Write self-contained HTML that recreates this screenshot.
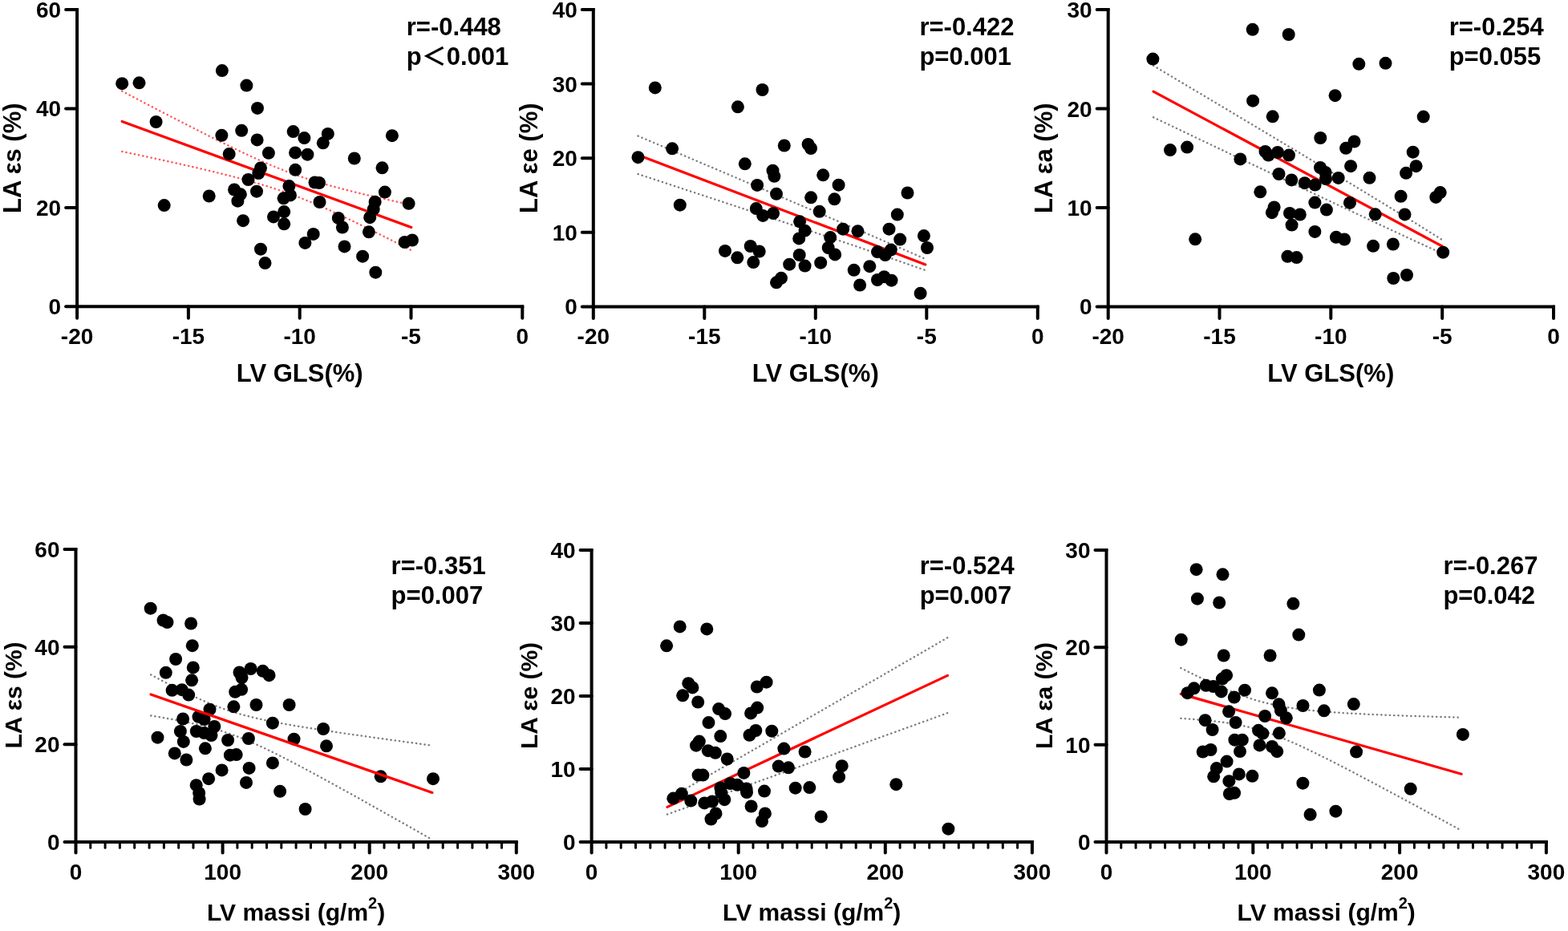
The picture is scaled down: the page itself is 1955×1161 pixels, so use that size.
<!DOCTYPE html>
<html><head><meta charset="utf-8"><title>Correlation plots</title>
<style>html,body{margin:0;padding:0;background:#fff;}svg{display:block;}</style>
</head><body>
<svg width="1955" height="1161" viewBox="0 0 1955 1161">
<rect width="100%" height="100%" fill="#fff"/>
<g><path d="M152.2 113.6 L161.4 118.5 L170.7 123.3 L179.9 128.1 L189.2 133 L198.4 137.8 L207.7 142.6 L216.9 147.3 L226.2 152.1 L235.4 156.8 L244.7 161.5 L253.9 166.2 L263.2 170.9 L272.4 175.5 L281.6 180 L290.9 184.5 L300.1 189 L309.4 193.3 L318.6 197.6 L327.9 201.7 L337.1 205.7 L346.4 209.5 L355.6 213.2 L364.9 216.6 L374.1 219.9 L383.4 223 L392.6 225.9 L401.8 228.7 L411.1 231.3 L420.3 233.8 L429.6 236.3 L438.8 238.6 L448.1 240.9 L457.3 243.1 L466.6 245.2 L475.8 247.4 L485.1 249.4 L494.3 251.5 L503.6 253.5 L512.8 255.6" fill="none" stroke="#ff5a5a" stroke-width="2.4" stroke-linecap="round" stroke-dasharray="0.3 5.0"/><path d="M152.2 188.9 L161.4 190.9 L170.7 192.8 L179.9 194.8 L189.2 196.8 L198.4 198.8 L207.7 200.8 L216.9 202.9 L226.2 204.9 L235.4 207 L244.7 209.1 L253.9 211.3 L263.2 213.5 L272.4 215.7 L281.6 218 L290.9 220.3 L300.1 222.7 L309.4 225.3 L318.6 227.9 L327.9 230.6 L337.1 233.5 L346.4 236.5 L355.6 239.7 L364.9 243 L374.1 246.6 L383.4 250.3 L392.6 254.1 L401.8 258.1 L411.1 262.2 L420.3 266.5 L429.6 270.8 L438.8 275.2 L448.1 279.7 L457.3 284.2 L466.6 288.8 L475.8 293.4 L485.1 298 L494.3 302.7 L503.6 307.4 L512.8 312.1" fill="none" stroke="#ff5a5a" stroke-width="2.4" stroke-linecap="round" stroke-dasharray="0.3 5.0"/><line x1="152.2" y1="151.4" x2="512.8" y2="283.5" stroke="#ff0000" stroke-width="3.2" stroke-linecap="round"/><g fill="#000"><circle cx="152.2" cy="104.2" r="8.0"/><circle cx="173.5" cy="103.3" r="8.0"/><circle cx="276.9" cy="88.1" r="8.0"/><circle cx="307.4" cy="106.6" r="8.0"/><circle cx="321" cy="134.9" r="8.0"/><circle cx="194.6" cy="152" r="8.0"/><circle cx="276.4" cy="168.8" r="8.0"/><circle cx="301.2" cy="162.8" r="8.0"/><circle cx="320.6" cy="174.4" r="8.0"/><circle cx="285.7" cy="192.1" r="8.0"/><circle cx="334.9" cy="190.8" r="8.0"/><circle cx="325" cy="209.5" r="8.0"/><circle cx="322.3" cy="216" r="8.0"/><circle cx="204.7" cy="256.1" r="8.0"/><circle cx="260.7" cy="244.5" r="8.0"/><circle cx="309.5" cy="224" r="8.0"/><circle cx="292.1" cy="236.5" r="8.0"/><circle cx="299.9" cy="242.3" r="8.0"/><circle cx="296.4" cy="250.7" r="8.0"/><circle cx="320" cy="238.7" r="8.0"/><circle cx="303.1" cy="275.2" r="8.0"/><circle cx="325" cy="310.7" r="8.0"/><circle cx="330.5" cy="328.1" r="8.0"/><circle cx="365.6" cy="164.1" r="8.0"/><circle cx="379.4" cy="172.1" r="8.0"/><circle cx="408.8" cy="166.9" r="8.0"/><circle cx="402.8" cy="178.3" r="8.0"/><circle cx="368.1" cy="190.4" r="8.0"/><circle cx="383.4" cy="192.7" r="8.0"/><circle cx="488.9" cy="169.2" r="8.0"/><circle cx="441.8" cy="197.5" r="8.0"/><circle cx="476.5" cy="209.3" r="8.0"/><circle cx="368.2" cy="211.8" r="8.0"/><circle cx="360.4" cy="232.1" r="8.0"/><circle cx="362" cy="243.4" r="8.0"/><circle cx="353.6" cy="247.3" r="8.0"/><circle cx="354.2" cy="264.1" r="8.0"/><circle cx="341" cy="270.4" r="8.0"/><circle cx="354.2" cy="279.3" r="8.0"/><circle cx="392.5" cy="227.5" r="8.0"/><circle cx="398" cy="228" r="8.0"/><circle cx="398.5" cy="252" r="8.0"/><circle cx="390.7" cy="291.9" r="8.0"/><circle cx="380.4" cy="302.9" r="8.0"/><circle cx="421.8" cy="271.9" r="8.0"/><circle cx="426.9" cy="283.5" r="8.0"/><circle cx="429.5" cy="307.4" r="8.0"/><circle cx="452.1" cy="319.7" r="8.0"/><circle cx="468.3" cy="339.7" r="8.0"/><circle cx="459.9" cy="289.3" r="8.0"/><circle cx="467.6" cy="251.8" r="8.0"/><circle cx="465.7" cy="260.9" r="8.0"/><circle cx="461.2" cy="271.2" r="8.0"/><circle cx="479.9" cy="239.6" r="8.0"/><circle cx="509.6" cy="253.8" r="8.0"/><circle cx="504.6" cy="302" r="8.0"/><circle cx="514" cy="299.5" r="8.0"/></g><path d="M96.1 10 V384.3 M94.1 382.3 H653.3" fill="none" stroke="#000" stroke-width="4"/><line x1="82.1" y1="382.3" x2="96.1" y2="382.3" stroke="#000" stroke-width="4" stroke-linecap="round"/><line x1="82.1" y1="258.9" x2="96.1" y2="258.9" stroke="#000" stroke-width="4" stroke-linecap="round"/><line x1="82.1" y1="135.4" x2="96.1" y2="135.4" stroke="#000" stroke-width="4" stroke-linecap="round"/><line x1="82.1" y1="12" x2="96.1" y2="12" stroke="#000" stroke-width="4" stroke-linecap="round"/><line x1="96.1" y1="382.3" x2="96.1" y2="396.8" stroke="#000" stroke-width="4" stroke-linecap="round"/><line x1="234.9" y1="382.3" x2="234.9" y2="396.8" stroke="#000" stroke-width="4" stroke-linecap="round"/><line x1="373.7" y1="382.3" x2="373.7" y2="396.8" stroke="#000" stroke-width="4" stroke-linecap="round"/><line x1="512.5" y1="382.3" x2="512.5" y2="396.8" stroke="#000" stroke-width="4" stroke-linecap="round"/><line x1="651.3" y1="382.3" x2="651.3" y2="396.8" stroke="#000" stroke-width="4" stroke-linecap="round"/></g>
<g font-family="&apos;Liberation Sans&apos;, Arial, Helvetica, sans-serif" font-weight="bold" fill="#000"><text x="76.1" y="392.3" text-anchor="end" font-size="28">0</text><text x="76.1" y="268.9" text-anchor="end" font-size="28">20</text><text x="76.1" y="145.4" text-anchor="end" font-size="28">40</text><text x="76.1" y="22" text-anchor="end" font-size="28">60</text><text x="96.1" y="429.3" text-anchor="middle" font-size="28">-20</text><text x="234.9" y="429.3" text-anchor="middle" font-size="28">-15</text><text x="373.7" y="429.3" text-anchor="middle" font-size="28">-10</text><text x="512.5" y="429.3" text-anchor="middle" font-size="28">-5</text><text x="651.3" y="429.3" text-anchor="middle" font-size="28">0</text><text x="373.7" y="476" text-anchor="middle" font-size="31">LV GLS(%)</text><text transform="translate(26.1 197.2) rotate(-90)" text-anchor="middle" font-size="31">LA εs (%)</text><text x="506.8" y="43.6" font-size="31">r=-0.448</text><text x="506.8" y="80.8" font-size="31">p<tspan font-family="'Noto Sans CJK SC', sans-serif" font-weight="700">＜</tspan>0.001</text></g>
<g><path d="M795.5 169.6 L804.7 173.5 L813.9 177.4 L823.1 181.3 L832.2 185.2 L841.4 189.2 L850.6 193.1 L859.8 197 L869 200.9 L878.2 204.8 L887.4 208.7 L896.6 212.6 L905.7 216.5 L914.9 220.4 L924.1 224.3 L933.3 228.3 L942.5 232.2 L951.7 236.1 L960.9 240 L970.1 243.9 L979.2 247.8 L988.4 251.8 L997.6 255.7 L1006.8 259.6 L1016 263.5 L1025.2 267.4 L1034.4 271.4 L1043.6 275.3 L1052.7 279.2 L1061.9 283.2 L1071.1 287.1 L1080.3 291.1 L1089.5 295 L1098.7 299 L1107.9 302.9 L1117.1 306.9 L1126.2 310.9 L1135.4 314.9 L1144.6 318.9 L1153.8 322.9" fill="none" stroke="#7e7e7e" stroke-width="2.4" stroke-linecap="round" stroke-dasharray="0.3 5.0"/><path d="M795.5 217.1 L804.7 220.1 L813.9 223.1 L823.1 226.1 L832.2 229.1 L841.4 232.1 L850.6 235.2 L859.8 238.2 L869 241.2 L878.2 244.2 L887.4 247.3 L896.6 250.3 L905.7 253.3 L914.9 256.3 L924.1 259.4 L933.3 262.4 L942.5 265.4 L951.7 268.5 L960.9 271.5 L970.1 274.6 L979.2 277.6 L988.4 280.7 L997.6 283.7 L1006.8 286.8 L1016 289.9 L1025.2 293 L1034.4 296 L1043.6 299.1 L1052.7 302.2 L1061.9 305.3 L1071.1 308.4 L1080.3 311.6 L1089.5 314.7 L1098.7 317.9 L1107.9 321 L1117.1 324.2 L1126.2 327.4 L1135.4 330.6 L1144.6 333.8 L1153.8 337.1" fill="none" stroke="#7e7e7e" stroke-width="2.4" stroke-linecap="round" stroke-dasharray="0.3 5.0"/><line x1="795.5" y1="193.2" x2="1153.8" y2="329.9" stroke="#ff0000" stroke-width="3.2" stroke-linecap="round"/><g fill="#000"><circle cx="816.8" cy="109.4" r="8.0"/><circle cx="950.5" cy="112" r="8.0"/><circle cx="919.9" cy="133.3" r="8.0"/><circle cx="795.5" cy="196.2" r="8.0"/><circle cx="838.1" cy="185.3" r="8.0"/><circle cx="977.8" cy="181.5" r="8.0"/><circle cx="928.8" cy="204.3" r="8.0"/><circle cx="963.5" cy="212.7" r="8.0"/><circle cx="965.4" cy="219.8" r="8.0"/><circle cx="944.1" cy="230.9" r="8.0"/><circle cx="968" cy="241.8" r="8.0"/><circle cx="847.8" cy="255.7" r="8.0"/><circle cx="942.8" cy="260.1" r="8.0"/><circle cx="951.2" cy="268.9" r="8.0"/><circle cx="964.1" cy="266.1" r="8.0"/><circle cx="997.1" cy="276.3" r="8.0"/><circle cx="996.2" cy="297.4" r="8.0"/><circle cx="996.7" cy="318" r="8.0"/><circle cx="984.2" cy="329.7" r="8.0"/><circle cx="904" cy="312.9" r="8.0"/><circle cx="919.3" cy="321.3" r="8.0"/><circle cx="935.7" cy="307" r="8.0"/><circle cx="946.7" cy="313.5" r="8.0"/><circle cx="939.3" cy="327.1" r="8.0"/><circle cx="974" cy="346.8" r="8.0"/><circle cx="968" cy="352.3" r="8.0"/><circle cx="1007.6" cy="180" r="8.0"/><circle cx="1011" cy="185" r="8.0"/><circle cx="1026.2" cy="218.3" r="8.0"/><circle cx="1045.6" cy="230.7" r="8.0"/><circle cx="1131.5" cy="240.5" r="8.0"/><circle cx="1011.1" cy="246.3" r="8.0"/><circle cx="1040.4" cy="248.3" r="8.0"/><circle cx="1021.7" cy="263.8" r="8.0"/><circle cx="1118.8" cy="267.6" r="8.0"/><circle cx="1003.6" cy="287.7" r="8.0"/><circle cx="1035.2" cy="296.1" r="8.0"/><circle cx="1032.7" cy="309" r="8.0"/><circle cx="1041.1" cy="317.4" r="8.0"/><circle cx="1051.1" cy="285.7" r="8.0"/><circle cx="1069.5" cy="288.3" r="8.0"/><circle cx="1108.5" cy="285.7" r="8.0"/><circle cx="1122.2" cy="298.6" r="8.0"/><circle cx="1151.9" cy="294.1" r="8.0"/><circle cx="1156" cy="309" r="8.0"/><circle cx="1094" cy="314.1" r="8.0"/><circle cx="1103.7" cy="318" r="8.0"/><circle cx="1110.8" cy="311.6" r="8.0"/><circle cx="1003.6" cy="331.6" r="8.0"/><circle cx="1023.2" cy="327.7" r="8.0"/><circle cx="1064.7" cy="336.8" r="8.0"/><circle cx="1084.3" cy="332.2" r="8.0"/><circle cx="1072.1" cy="355.5" r="8.0"/><circle cx="1094" cy="349" r="8.0"/><circle cx="1102.4" cy="345.2" r="8.0"/><circle cx="1111.5" cy="349.7" r="8.0"/><circle cx="1147.6" cy="365.8" r="8.0"/></g><path d="M739.8 10 V384.4 M737.8 382.4 H1295.8" fill="none" stroke="#000" stroke-width="4"/><line x1="725.8" y1="382.4" x2="739.8" y2="382.4" stroke="#000" stroke-width="4" stroke-linecap="round"/><line x1="725.8" y1="289.8" x2="739.8" y2="289.8" stroke="#000" stroke-width="4" stroke-linecap="round"/><line x1="725.8" y1="197.2" x2="739.8" y2="197.2" stroke="#000" stroke-width="4" stroke-linecap="round"/><line x1="725.8" y1="104.6" x2="739.8" y2="104.6" stroke="#000" stroke-width="4" stroke-linecap="round"/><line x1="725.8" y1="12" x2="739.8" y2="12" stroke="#000" stroke-width="4" stroke-linecap="round"/><line x1="739.8" y1="382.4" x2="739.8" y2="396.9" stroke="#000" stroke-width="4" stroke-linecap="round"/><line x1="878.3" y1="382.4" x2="878.3" y2="396.9" stroke="#000" stroke-width="4" stroke-linecap="round"/><line x1="1016.8" y1="382.4" x2="1016.8" y2="396.9" stroke="#000" stroke-width="4" stroke-linecap="round"/><line x1="1155.3" y1="382.4" x2="1155.3" y2="396.9" stroke="#000" stroke-width="4" stroke-linecap="round"/><line x1="1293.8" y1="382.4" x2="1293.8" y2="396.9" stroke="#000" stroke-width="4" stroke-linecap="round"/></g>
<g font-family="&apos;Liberation Sans&apos;, Arial, Helvetica, sans-serif" font-weight="bold" fill="#000"><text x="719.8" y="392.4" text-anchor="end" font-size="28">0</text><text x="719.8" y="299.8" text-anchor="end" font-size="28">10</text><text x="719.8" y="207.2" text-anchor="end" font-size="28">20</text><text x="719.8" y="114.6" text-anchor="end" font-size="28">30</text><text x="719.8" y="22" text-anchor="end" font-size="28">40</text><text x="739.8" y="429.4" text-anchor="middle" font-size="28">-20</text><text x="878.3" y="429.4" text-anchor="middle" font-size="28">-15</text><text x="1016.8" y="429.4" text-anchor="middle" font-size="28">-10</text><text x="1155.3" y="429.4" text-anchor="middle" font-size="28">-5</text><text x="1293.8" y="429.4" text-anchor="middle" font-size="28">0</text><text x="1016.8" y="476.1" text-anchor="middle" font-size="31">LV GLS(%)</text><text transform="translate(669.8 197.2) rotate(-90)" text-anchor="middle" font-size="31">LA εe (%)</text><text x="1146.4" y="43.6" font-size="31">r=-0.422</text><text x="1146.4" y="80.8" font-size="31">p=0.001</text></g>
<g><path d="M1438.1 81.9 L1447.3 87.4 L1456.6 92.9 L1465.8 98.4 L1475 103.9 L1484.3 109.4 L1493.5 114.9 L1502.8 120.4 L1512 125.9 L1521.2 131.4 L1530.5 136.9 L1539.7 142.5 L1548.9 148 L1558.2 153.5 L1567.4 159 L1576.6 164.5 L1585.9 170.1 L1595.1 175.6 L1604.3 181.1 L1613.6 186.7 L1622.8 192.2 L1632.1 197.8 L1641.3 203.3 L1650.5 208.9 L1659.8 214.4 L1669 220 L1678.2 225.6 L1687.5 231.1 L1696.7 236.7 L1705.9 242.3 L1715.2 247.9 L1724.4 253.5 L1733.6 259.2 L1742.9 264.8 L1752.1 270.5 L1761.4 276.1 L1770.6 281.8 L1779.8 287.6 L1789.1 293.4 L1798.3 299.2" fill="none" stroke="#7e7e7e" stroke-width="2.4" stroke-linecap="round" stroke-dasharray="0.3 5.0"/><path d="M1438.1 146.3 L1447.3 150.7 L1456.6 155.1 L1465.8 159.5 L1475 163.9 L1484.3 168.3 L1493.5 172.7 L1502.8 177.1 L1512 181.5 L1521.2 185.9 L1530.5 190.3 L1539.7 194.7 L1548.9 199.1 L1558.2 203.5 L1567.4 207.8 L1576.6 212.2 L1585.9 216.6 L1595.1 221 L1604.3 225.4 L1613.6 229.8 L1622.8 234.1 L1632.1 238.5 L1641.3 242.9 L1650.5 247.2 L1659.8 251.6 L1669 256 L1678.2 260.3 L1687.5 264.7 L1696.7 269 L1705.9 273.3 L1715.2 277.7 L1724.4 282 L1733.6 286.3 L1742.9 290.6 L1752.1 294.9 L1761.4 299.2 L1770.6 303.4 L1779.8 307.7 L1789.1 311.9 L1798.3 316.1" fill="none" stroke="#7e7e7e" stroke-width="2.4" stroke-linecap="round" stroke-dasharray="0.3 5.0"/><line x1="1438.1" y1="114.1" x2="1798.3" y2="307.2" stroke="#ff0000" stroke-width="3.2" stroke-linecap="round"/><g fill="#000"><circle cx="1561.7" cy="36.8" r="8.0"/><circle cx="1606.7" cy="43" r="8.0"/><circle cx="1437.4" cy="73.6" r="8.0"/><circle cx="1562.1" cy="125.7" r="8.0"/><circle cx="1586.7" cy="145.3" r="8.0"/><circle cx="1694.3" cy="79.8" r="8.0"/><circle cx="1727.5" cy="78.8" r="8.0"/><circle cx="1664.6" cy="119.2" r="8.0"/><circle cx="1774.7" cy="145.6" r="8.0"/><circle cx="1646.3" cy="172" r="8.0"/><circle cx="1459" cy="187.1" r="8.0"/><circle cx="1480.1" cy="183.6" r="8.0"/><circle cx="1546.4" cy="198.4" r="8.0"/><circle cx="1577.5" cy="189" r="8.0"/><circle cx="1581.5" cy="193.5" r="8.0"/><circle cx="1593" cy="190" r="8.0"/><circle cx="1607" cy="193.6" r="8.0"/><circle cx="1594.5" cy="217" r="8.0"/><circle cx="1610.3" cy="224.4" r="8.0"/><circle cx="1626.7" cy="228.2" r="8.0"/><circle cx="1639.6" cy="230.6" r="8.0"/><circle cx="1571.3" cy="239.3" r="8.0"/><circle cx="1588.6" cy="258.5" r="8.0"/><circle cx="1585.9" cy="265.2" r="8.0"/><circle cx="1608" cy="265.9" r="8.0"/><circle cx="1620.8" cy="267.5" r="8.0"/><circle cx="1610.6" cy="280.6" r="8.0"/><circle cx="1490.2" cy="298.3" r="8.0"/><circle cx="1688.5" cy="176.5" r="8.0"/><circle cx="1678.1" cy="184.8" r="8.0"/><circle cx="1761.7" cy="189.7" r="8.0"/><circle cx="1765.6" cy="207.2" r="8.0"/><circle cx="1753.1" cy="215.8" r="8.0"/><circle cx="1684.1" cy="207.2" r="8.0"/><circle cx="1707.5" cy="221.8" r="8.0"/><circle cx="1668.7" cy="221.9" r="8.0"/><circle cx="1646" cy="209" r="8.0"/><circle cx="1652.5" cy="215" r="8.0"/><circle cx="1653" cy="223" r="8.0"/><circle cx="1639.4" cy="252.6" r="8.0"/><circle cx="1653.9" cy="261.6" r="8.0"/><circle cx="1683" cy="252.9" r="8.0"/><circle cx="1714.7" cy="267.3" r="8.0"/><circle cx="1746.6" cy="244.8" r="8.0"/><circle cx="1751.5" cy="267.4" r="8.0"/><circle cx="1790.3" cy="245.9" r="8.0"/><circle cx="1795.7" cy="240.1" r="8.0"/><circle cx="1639.4" cy="288.9" r="8.0"/><circle cx="1665.9" cy="295.8" r="8.0"/><circle cx="1676.2" cy="298.5" r="8.0"/><circle cx="1712.1" cy="306.8" r="8.0"/><circle cx="1736.9" cy="304.5" r="8.0"/><circle cx="1799.2" cy="314.7" r="8.0"/><circle cx="1737.3" cy="347" r="8.0"/><circle cx="1754" cy="343" r="8.0"/><circle cx="1605.4" cy="319.8" r="8.0"/><circle cx="1616.6" cy="321.1" r="8.0"/></g><path d="M1381.7 10 V384.4 M1379.7 382.4 H1939" fill="none" stroke="#000" stroke-width="4"/><line x1="1367.7" y1="382.4" x2="1381.7" y2="382.4" stroke="#000" stroke-width="4" stroke-linecap="round"/><line x1="1367.7" y1="258.9" x2="1381.7" y2="258.9" stroke="#000" stroke-width="4" stroke-linecap="round"/><line x1="1367.7" y1="135.5" x2="1381.7" y2="135.5" stroke="#000" stroke-width="4" stroke-linecap="round"/><line x1="1367.7" y1="12" x2="1381.7" y2="12" stroke="#000" stroke-width="4" stroke-linecap="round"/><line x1="1381.7" y1="382.4" x2="1381.7" y2="396.9" stroke="#000" stroke-width="4" stroke-linecap="round"/><line x1="1520.5" y1="382.4" x2="1520.5" y2="396.9" stroke="#000" stroke-width="4" stroke-linecap="round"/><line x1="1659.3" y1="382.4" x2="1659.3" y2="396.9" stroke="#000" stroke-width="4" stroke-linecap="round"/><line x1="1798.2" y1="382.4" x2="1798.2" y2="396.9" stroke="#000" stroke-width="4" stroke-linecap="round"/><line x1="1937" y1="382.4" x2="1937" y2="396.9" stroke="#000" stroke-width="4" stroke-linecap="round"/></g>
<g font-family="&apos;Liberation Sans&apos;, Arial, Helvetica, sans-serif" font-weight="bold" fill="#000"><text x="1361.7" y="392.4" text-anchor="end" font-size="28">0</text><text x="1361.7" y="268.9" text-anchor="end" font-size="28">10</text><text x="1361.7" y="145.5" text-anchor="end" font-size="28">20</text><text x="1361.7" y="22" text-anchor="end" font-size="28">30</text><text x="1381.7" y="429.4" text-anchor="middle" font-size="28">-20</text><text x="1520.5" y="429.4" text-anchor="middle" font-size="28">-15</text><text x="1659.3" y="429.4" text-anchor="middle" font-size="28">-10</text><text x="1798.2" y="429.4" text-anchor="middle" font-size="28">-5</text><text x="1937" y="429.4" text-anchor="middle" font-size="28">0</text><text x="1659.3" y="476.1" text-anchor="middle" font-size="31">LV GLS(%)</text><text transform="translate(1311.7 197.2) rotate(-90)" text-anchor="middle" font-size="31">LA εa (%)</text><text x="1806.7" y="43.6" font-size="31">r=-0.254</text><text x="1806.7" y="80.8" font-size="31">p=0.055</text></g>
<g><path d="M188.1 841.4 L197.1 846.2 L206.1 850.9 L215.1 855.5 L224.1 860 L233.1 864.4 L242.1 868.7 L251.1 872.8 L260.1 876.7 L269.1 880.3 L278 883.7 L287 886.7 L296 889.5 L305 892 L314 894.3 L323 896.4 L332 898.4 L341 900.2 L350 901.9 L359 903.5 L368 905.1 L377 906.5 L386 908 L395 909.4 L404 910.8 L413 912.1 L422 913.5 L431 914.8 L440 916.1 L449 917.3 L457.9 918.6 L466.9 919.9 L475.9 921.1 L484.9 922.4 L493.9 923.6 L502.9 924.8 L511.9 926 L520.9 927.2 L529.9 928.5 L538.9 929.7" fill="none" stroke="#7e7e7e" stroke-width="2.4" stroke-linecap="round" stroke-dasharray="0.3 5.0"/><path d="M188.1 892.4 L197.1 893.9 L206.1 895.5 L215.1 897.1 L224.1 898.8 L233.1 900.6 L242.1 902.5 L251.1 904.6 L260.1 906.9 L269.1 909.4 L278 912.1 L287 915.2 L296 918.5 L305 922 L314 925.9 L323 929.9 L332 934.1 L341 938.5 L350 943 L359 947.6 L368 952.3 L377 957 L386 961.8 L395 966.7 L404 971.6 L413 976.5 L422 981.5 L431 986.4 L440 991.4 L449 996.4 L457.9 1001.5 L466.9 1006.5 L475.9 1011.5 L484.9 1016.6 L493.9 1021.7 L502.9 1026.7 L511.9 1031.8 L520.9 1036.9 L529.9 1042 L538.9 1047.1" fill="none" stroke="#7e7e7e" stroke-width="2.4" stroke-linecap="round" stroke-dasharray="0.3 5.0"/><g fill="#000"><circle cx="187.7" cy="758.7" r="8.0"/><circle cx="203.5" cy="773.5" r="8.0"/><circle cx="208.5" cy="776" r="8.0"/><circle cx="238.1" cy="777.5" r="8.0"/><circle cx="239.8" cy="805.2" r="8.0"/><circle cx="219.1" cy="822" r="8.0"/><circle cx="240.8" cy="832.4" r="8.0"/><circle cx="206.8" cy="838.8" r="8.0"/><circle cx="239.1" cy="848.3" r="8.0"/><circle cx="214.6" cy="860.8" r="8.0"/><circle cx="226.8" cy="860.2" r="8.0"/><circle cx="235.2" cy="866.6" r="8.0"/><circle cx="298.5" cy="838.5" r="8.0"/><circle cx="301.5" cy="845" r="8.0"/><circle cx="312.6" cy="834" r="8.0"/><circle cx="327.7" cy="836.8" r="8.0"/><circle cx="335.5" cy="842.2" r="8.0"/><circle cx="293.2" cy="862.8" r="8.0"/><circle cx="301.1" cy="859.8" r="8.0"/><circle cx="291.4" cy="881.3" r="8.0"/><circle cx="319.5" cy="879" r="8.0"/><circle cx="360.6" cy="879" r="8.0"/><circle cx="261.5" cy="884.7" r="8.0"/><circle cx="339.9" cy="901.7" r="8.0"/><circle cx="366.5" cy="921.7" r="8.0"/><circle cx="228.1" cy="896.5" r="8.0"/><circle cx="224.9" cy="912" r="8.0"/><circle cx="228.8" cy="924.9" r="8.0"/><circle cx="196.5" cy="919.7" r="8.0"/><circle cx="247.5" cy="893.8" r="8.0"/><circle cx="254.6" cy="897" r="8.0"/><circle cx="267.3" cy="906" r="8.0"/><circle cx="244.8" cy="912" r="8.0"/><circle cx="254.5" cy="914" r="8.0"/><circle cx="263.5" cy="917" r="8.0"/><circle cx="284.1" cy="923" r="8.0"/><circle cx="309.9" cy="921" r="8.0"/><circle cx="255.9" cy="933.3" r="8.0"/><circle cx="217.8" cy="939.4" r="8.0"/><circle cx="232.4" cy="947.5" r="8.0"/><circle cx="286.9" cy="941.7" r="8.0"/><circle cx="294.7" cy="941.1" r="8.0"/><circle cx="310.6" cy="957.9" r="8.0"/><circle cx="339.9" cy="951.4" r="8.0"/><circle cx="276.6" cy="960.4" r="8.0"/><circle cx="260.1" cy="971.2" r="8.0"/><circle cx="244.7" cy="979.2" r="8.0"/><circle cx="248.2" cy="988.9" r="8.0"/><circle cx="248.6" cy="996.6" r="8.0"/><circle cx="307" cy="975.9" r="8.0"/><circle cx="349.1" cy="986.8" r="8.0"/><circle cx="380.6" cy="1009" r="8.0"/><circle cx="403.1" cy="909" r="8.0"/><circle cx="407" cy="930.3" r="8.0"/><circle cx="474.7" cy="968.3" r="8.0"/><circle cx="540" cy="971.2" r="8.0"/></g><line x1="188.1" y1="866" x2="538.9" y2="988.4" stroke="#ff0000" stroke-width="3.2" stroke-linecap="round"/><path d="M94.5 683 V1052 M92.5 1050 H645.8" fill="none" stroke="#000" stroke-width="4"/><line x1="80.5" y1="1050" x2="94.5" y2="1050" stroke="#000" stroke-width="4" stroke-linecap="round"/><line x1="80.5" y1="928.3" x2="94.5" y2="928.3" stroke="#000" stroke-width="4" stroke-linecap="round"/><line x1="80.5" y1="806.7" x2="94.5" y2="806.7" stroke="#000" stroke-width="4" stroke-linecap="round"/><line x1="80.5" y1="685" x2="94.5" y2="685" stroke="#000" stroke-width="4" stroke-linecap="round"/><line x1="94.5" y1="1050" x2="94.5" y2="1063.6" stroke="#000" stroke-width="4" stroke-linecap="round"/><line x1="277.6" y1="1050" x2="277.6" y2="1063.6" stroke="#000" stroke-width="4" stroke-linecap="round"/><line x1="460.7" y1="1050" x2="460.7" y2="1063.6" stroke="#000" stroke-width="4" stroke-linecap="round"/><line x1="643.8" y1="1050" x2="643.8" y2="1063.6" stroke="#000" stroke-width="4" stroke-linecap="round"/><line x1="112.8" y1="1050" x2="112.8" y2="1057.3" stroke="#000" stroke-width="3" stroke-linecap="round"/><line x1="131.1" y1="1050" x2="131.1" y2="1057.3" stroke="#000" stroke-width="3" stroke-linecap="round"/><line x1="149.4" y1="1050" x2="149.4" y2="1057.3" stroke="#000" stroke-width="3" stroke-linecap="round"/><line x1="167.7" y1="1050" x2="167.7" y2="1057.3" stroke="#000" stroke-width="3" stroke-linecap="round"/><line x1="186.1" y1="1050" x2="186.1" y2="1057.3" stroke="#000" stroke-width="3" stroke-linecap="round"/><line x1="204.4" y1="1050" x2="204.4" y2="1057.3" stroke="#000" stroke-width="3" stroke-linecap="round"/><line x1="222.7" y1="1050" x2="222.7" y2="1057.3" stroke="#000" stroke-width="3" stroke-linecap="round"/><line x1="241" y1="1050" x2="241" y2="1057.3" stroke="#000" stroke-width="3" stroke-linecap="round"/><line x1="259.3" y1="1050" x2="259.3" y2="1057.3" stroke="#000" stroke-width="3" stroke-linecap="round"/><line x1="295.9" y1="1050" x2="295.9" y2="1057.3" stroke="#000" stroke-width="3" stroke-linecap="round"/><line x1="314.2" y1="1050" x2="314.2" y2="1057.3" stroke="#000" stroke-width="3" stroke-linecap="round"/><line x1="332.5" y1="1050" x2="332.5" y2="1057.3" stroke="#000" stroke-width="3" stroke-linecap="round"/><line x1="350.8" y1="1050" x2="350.8" y2="1057.3" stroke="#000" stroke-width="3" stroke-linecap="round"/><line x1="369.1" y1="1050" x2="369.1" y2="1057.3" stroke="#000" stroke-width="3" stroke-linecap="round"/><line x1="387.5" y1="1050" x2="387.5" y2="1057.3" stroke="#000" stroke-width="3" stroke-linecap="round"/><line x1="405.8" y1="1050" x2="405.8" y2="1057.3" stroke="#000" stroke-width="3" stroke-linecap="round"/><line x1="424.1" y1="1050" x2="424.1" y2="1057.3" stroke="#000" stroke-width="3" stroke-linecap="round"/><line x1="442.4" y1="1050" x2="442.4" y2="1057.3" stroke="#000" stroke-width="3" stroke-linecap="round"/><line x1="479" y1="1050" x2="479" y2="1057.3" stroke="#000" stroke-width="3" stroke-linecap="round"/><line x1="497.3" y1="1050" x2="497.3" y2="1057.3" stroke="#000" stroke-width="3" stroke-linecap="round"/><line x1="515.6" y1="1050" x2="515.6" y2="1057.3" stroke="#000" stroke-width="3" stroke-linecap="round"/><line x1="533.9" y1="1050" x2="533.9" y2="1057.3" stroke="#000" stroke-width="3" stroke-linecap="round"/><line x1="552.2" y1="1050" x2="552.2" y2="1057.3" stroke="#000" stroke-width="3" stroke-linecap="round"/><line x1="570.6" y1="1050" x2="570.6" y2="1057.3" stroke="#000" stroke-width="3" stroke-linecap="round"/><line x1="588.9" y1="1050" x2="588.9" y2="1057.3" stroke="#000" stroke-width="3" stroke-linecap="round"/><line x1="607.2" y1="1050" x2="607.2" y2="1057.3" stroke="#000" stroke-width="3" stroke-linecap="round"/><line x1="625.5" y1="1050" x2="625.5" y2="1057.3" stroke="#000" stroke-width="3" stroke-linecap="round"/></g>
<g font-family="&apos;Liberation Sans&apos;, Arial, Helvetica, sans-serif" font-weight="bold" fill="#000"><text x="74.5" y="1060" text-anchor="end" font-size="28">0</text><text x="74.5" y="938.3" text-anchor="end" font-size="28">20</text><text x="74.5" y="816.7" text-anchor="end" font-size="28">40</text><text x="74.5" y="695" text-anchor="end" font-size="28">60</text><text x="94.5" y="1097" text-anchor="middle" font-size="28">0</text><text x="277.6" y="1097" text-anchor="middle" font-size="28">100</text><text x="460.7" y="1097" text-anchor="middle" font-size="28">200</text><text x="643.8" y="1097" text-anchor="middle" font-size="28">300</text><text x="369.1" y="1148.3" text-anchor="middle" font-size="30">LV massi (g/m<tspan font-size="20" dy="-15.5">2</tspan><tspan dy="15.5">)</tspan></text><text transform="translate(26.7 867) rotate(-90)" text-anchor="middle" font-size="30">LA εs (%)</text><text x="487.6" y="715.6" font-size="31">r=-0.351</text><text x="487.6" y="752.8" font-size="31">p=0.007</text></g>
<g><path d="M832 996.5 L841 991.5 L849.9 986.4 L858.9 981.3 L867.8 976.1 L876.8 971 L885.8 965.9 L894.7 960.7 L903.7 955.6 L912.7 950.4 L921.6 945.3 L930.6 940.1 L939.5 935 L948.5 929.8 L957.5 924.6 L966.4 919.5 L975.4 914.3 L984.3 909.1 L993.3 903.9 L1002.3 898.8 L1011.2 893.6 L1020.2 888.4 L1029.2 883.2 L1038.1 878.1 L1047.1 872.9 L1056 867.7 L1065 862.5 L1074 857.3 L1082.9 852.1 L1091.9 847 L1100.8 841.8 L1109.8 836.6 L1118.8 831.4 L1127.7 826.2 L1136.7 821 L1145.7 815.9 L1154.6 810.7 L1163.6 805.5 L1172.5 800.3 L1181.5 795.1" fill="none" stroke="#7e7e7e" stroke-width="2.4" stroke-linecap="round" stroke-dasharray="0.3 5.0"/><path d="M832 1015.5 L841 1012.3 L849.9 1009.1 L858.9 1005.9 L867.8 1002.6 L876.8 999.4 L885.8 996.2 L894.7 992.9 L903.7 989.7 L912.7 986.5 L921.6 983.2 L930.6 980 L939.5 976.7 L948.5 973.5 L957.5 970.2 L966.4 967 L975.4 963.8 L984.3 960.5 L993.3 957.3 L1002.3 954 L1011.2 950.8 L1020.2 947.5 L1029.2 944.3 L1038.1 941.1 L1047.1 937.8 L1056 934.6 L1065 931.3 L1074 928.1 L1082.9 924.8 L1091.9 921.6 L1100.8 918.3 L1109.8 915.1 L1118.8 911.9 L1127.7 908.6 L1136.7 905.4 L1145.7 902.1 L1154.6 898.9 L1163.6 895.6 L1172.5 892.4 L1181.5 889.1" fill="none" stroke="#7e7e7e" stroke-width="2.4" stroke-linecap="round" stroke-dasharray="0.3 5.0"/><line x1="832" y1="1006.4" x2="1181.5" y2="842.4" stroke="#ff0000" stroke-width="3.2" stroke-linecap="round"/><g fill="#000"><circle cx="847.7" cy="781.4" r="8.0"/><circle cx="881.3" cy="784.4" r="8.0"/><circle cx="831.1" cy="805.3" r="8.0"/><circle cx="858.3" cy="852.2" r="8.0"/><circle cx="863.4" cy="857.4" r="8.0"/><circle cx="851.2" cy="867.3" r="8.0"/><circle cx="870.2" cy="875.5" r="8.0"/><circle cx="896.1" cy="884.1" r="8.0"/><circle cx="904.1" cy="890.1" r="8.0"/><circle cx="883.5" cy="901.1" r="8.0"/><circle cx="943.8" cy="856.5" r="8.0"/><circle cx="955.6" cy="850.7" r="8.0"/><circle cx="944.2" cy="882.6" r="8.0"/><circle cx="936.1" cy="889.4" r="8.0"/><circle cx="898.3" cy="918.1" r="8.0"/><circle cx="934.5" cy="916.8" r="8.0"/><circle cx="942.3" cy="911" r="8.0"/><circle cx="962.3" cy="911.7" r="8.0"/><circle cx="868" cy="929.7" r="8.0"/><circle cx="871.8" cy="924.6" r="8.0"/><circle cx="882.8" cy="936.2" r="8.0"/><circle cx="891.9" cy="938.8" r="8.0"/><circle cx="906.7" cy="946.5" r="8.0"/><circle cx="977.4" cy="933.6" r="8.0"/><circle cx="1003.6" cy="937.5" r="8.0"/><circle cx="870.6" cy="966.6" r="8.0"/><circle cx="876.4" cy="966.6" r="8.0"/><circle cx="927.4" cy="963.9" r="8.0"/><circle cx="970.7" cy="955.6" r="8.0"/><circle cx="983" cy="957.3" r="8.0"/><circle cx="839.5" cy="995.6" r="8.0"/><circle cx="849.9" cy="989.8" r="8.0"/><circle cx="861.3" cy="998.6" r="8.0"/><circle cx="898.4" cy="982.4" r="8.0"/><circle cx="899.3" cy="988.7" r="8.0"/><circle cx="903.3" cy="997.2" r="8.0"/><circle cx="910.5" cy="977" r="8.0"/><circle cx="919.3" cy="978.8" r="8.0"/><circle cx="930.6" cy="983.5" r="8.0"/><circle cx="931" cy="988" r="8.0"/><circle cx="878.3" cy="1001.4" r="8.0"/><circle cx="888" cy="999.5" r="8.0"/><circle cx="953" cy="986.6" r="8.0"/><circle cx="991.7" cy="982.7" r="8.0"/><circle cx="1009.3" cy="982.1" r="8.0"/><circle cx="936.6" cy="1005.5" r="8.0"/><circle cx="953.9" cy="1014.4" r="8.0"/><circle cx="950" cy="1024.1" r="8.0"/><circle cx="886.5" cy="1021.5" r="8.0"/><circle cx="892.5" cy="1014.5" r="8.0"/><circle cx="1023.7" cy="1018.4" r="8.0"/><circle cx="1049.7" cy="955.2" r="8.0"/><circle cx="1046.1" cy="968.8" r="8.0"/><circle cx="1117.3" cy="978.2" r="8.0"/><circle cx="1182.4" cy="1033.7" r="8.0"/></g><path d="M737.6 684 V1052 M735.6 1050 H1288.9" fill="none" stroke="#000" stroke-width="4"/><line x1="723.6" y1="1050" x2="737.6" y2="1050" stroke="#000" stroke-width="4" stroke-linecap="round"/><line x1="723.6" y1="959" x2="737.6" y2="959" stroke="#000" stroke-width="4" stroke-linecap="round"/><line x1="723.6" y1="868" x2="737.6" y2="868" stroke="#000" stroke-width="4" stroke-linecap="round"/><line x1="723.6" y1="777" x2="737.6" y2="777" stroke="#000" stroke-width="4" stroke-linecap="round"/><line x1="723.6" y1="686" x2="737.6" y2="686" stroke="#000" stroke-width="4" stroke-linecap="round"/><line x1="737.6" y1="1050" x2="737.6" y2="1063.6" stroke="#000" stroke-width="4" stroke-linecap="round"/><line x1="920.7" y1="1050" x2="920.7" y2="1063.6" stroke="#000" stroke-width="4" stroke-linecap="round"/><line x1="1103.8" y1="1050" x2="1103.8" y2="1063.6" stroke="#000" stroke-width="4" stroke-linecap="round"/><line x1="1286.9" y1="1050" x2="1286.9" y2="1063.6" stroke="#000" stroke-width="4" stroke-linecap="round"/><line x1="755.9" y1="1050" x2="755.9" y2="1057.3" stroke="#000" stroke-width="3" stroke-linecap="round"/><line x1="774.2" y1="1050" x2="774.2" y2="1057.3" stroke="#000" stroke-width="3" stroke-linecap="round"/><line x1="792.5" y1="1050" x2="792.5" y2="1057.3" stroke="#000" stroke-width="3" stroke-linecap="round"/><line x1="810.8" y1="1050" x2="810.8" y2="1057.3" stroke="#000" stroke-width="3" stroke-linecap="round"/><line x1="829.1" y1="1050" x2="829.1" y2="1057.3" stroke="#000" stroke-width="3" stroke-linecap="round"/><line x1="847.5" y1="1050" x2="847.5" y2="1057.3" stroke="#000" stroke-width="3" stroke-linecap="round"/><line x1="865.8" y1="1050" x2="865.8" y2="1057.3" stroke="#000" stroke-width="3" stroke-linecap="round"/><line x1="884.1" y1="1050" x2="884.1" y2="1057.3" stroke="#000" stroke-width="3" stroke-linecap="round"/><line x1="902.4" y1="1050" x2="902.4" y2="1057.3" stroke="#000" stroke-width="3" stroke-linecap="round"/><line x1="939" y1="1050" x2="939" y2="1057.3" stroke="#000" stroke-width="3" stroke-linecap="round"/><line x1="957.3" y1="1050" x2="957.3" y2="1057.3" stroke="#000" stroke-width="3" stroke-linecap="round"/><line x1="975.6" y1="1050" x2="975.6" y2="1057.3" stroke="#000" stroke-width="3" stroke-linecap="round"/><line x1="993.9" y1="1050" x2="993.9" y2="1057.3" stroke="#000" stroke-width="3" stroke-linecap="round"/><line x1="1012.2" y1="1050" x2="1012.2" y2="1057.3" stroke="#000" stroke-width="3" stroke-linecap="round"/><line x1="1030.6" y1="1050" x2="1030.6" y2="1057.3" stroke="#000" stroke-width="3" stroke-linecap="round"/><line x1="1048.9" y1="1050" x2="1048.9" y2="1057.3" stroke="#000" stroke-width="3" stroke-linecap="round"/><line x1="1067.2" y1="1050" x2="1067.2" y2="1057.3" stroke="#000" stroke-width="3" stroke-linecap="round"/><line x1="1085.5" y1="1050" x2="1085.5" y2="1057.3" stroke="#000" stroke-width="3" stroke-linecap="round"/><line x1="1122.1" y1="1050" x2="1122.1" y2="1057.3" stroke="#000" stroke-width="3" stroke-linecap="round"/><line x1="1140.4" y1="1050" x2="1140.4" y2="1057.3" stroke="#000" stroke-width="3" stroke-linecap="round"/><line x1="1158.7" y1="1050" x2="1158.7" y2="1057.3" stroke="#000" stroke-width="3" stroke-linecap="round"/><line x1="1177" y1="1050" x2="1177" y2="1057.3" stroke="#000" stroke-width="3" stroke-linecap="round"/><line x1="1195.3" y1="1050" x2="1195.3" y2="1057.3" stroke="#000" stroke-width="3" stroke-linecap="round"/><line x1="1213.7" y1="1050" x2="1213.7" y2="1057.3" stroke="#000" stroke-width="3" stroke-linecap="round"/><line x1="1232" y1="1050" x2="1232" y2="1057.3" stroke="#000" stroke-width="3" stroke-linecap="round"/><line x1="1250.3" y1="1050" x2="1250.3" y2="1057.3" stroke="#000" stroke-width="3" stroke-linecap="round"/><line x1="1268.6" y1="1050" x2="1268.6" y2="1057.3" stroke="#000" stroke-width="3" stroke-linecap="round"/></g>
<g font-family="&apos;Liberation Sans&apos;, Arial, Helvetica, sans-serif" font-weight="bold" fill="#000"><text x="717.6" y="1060" text-anchor="end" font-size="28">0</text><text x="717.6" y="969" text-anchor="end" font-size="28">10</text><text x="717.6" y="878" text-anchor="end" font-size="28">20</text><text x="717.6" y="787" text-anchor="end" font-size="28">30</text><text x="717.6" y="696" text-anchor="end" font-size="28">40</text><text x="737.6" y="1097" text-anchor="middle" font-size="28">0</text><text x="920.7" y="1097" text-anchor="middle" font-size="28">100</text><text x="1103.8" y="1097" text-anchor="middle" font-size="28">200</text><text x="1286.9" y="1097" text-anchor="middle" font-size="28">300</text><text x="1012.2" y="1148.3" text-anchor="middle" font-size="30">LV massi (g/m<tspan font-size="20" dy="-15.5">2</tspan><tspan dy="15.5">)</tspan></text><text transform="translate(669.8 867.5) rotate(-90)" text-anchor="middle" font-size="30">LA εe (%)</text><text x="1146.7" y="715.6" font-size="31">r=-0.524</text><text x="1146.7" y="752.8" font-size="31">p=0.007</text></g>
<g><path d="M1472.3 833.1 L1481.3 837.6 L1490.2 842 L1499.2 846.3 L1508.2 850.5 L1517.1 854.6 L1526.1 858.5 L1535.1 862.3 L1544.1 865.8 L1553 869 L1562 872 L1571 874.6 L1579.9 877 L1588.9 879 L1597.9 880.8 L1606.8 882.4 L1615.8 883.7 L1624.8 884.8 L1633.7 885.8 L1642.7 886.7 L1651.7 887.5 L1660.7 888.2 L1669.6 888.8 L1678.6 889.4 L1687.6 889.9 L1696.5 890.3 L1705.5 890.8 L1714.5 891.2 L1723.4 891.5 L1732.4 891.9 L1741.4 892.2 L1750.3 892.6 L1759.3 892.9 L1768.3 893.1 L1777.3 893.4 L1786.2 893.7 L1795.2 894 L1804.2 894.2 L1813.1 894.5 L1822.1 894.7" fill="none" stroke="#7e7e7e" stroke-width="2.4" stroke-linecap="round" stroke-dasharray="0.3 5.0"/><path d="M1472.3 895.9 L1481.3 896.5 L1490.2 897.2 L1499.2 897.9 L1508.2 898.8 L1517.1 899.8 L1526.1 900.9 L1535.1 902.3 L1544.1 903.9 L1553 905.8 L1562 908 L1571 910.5 L1579.9 913.4 L1588.9 916.6 L1597.9 920.1 L1606.8 923.8 L1615.8 927.7 L1624.8 931.8 L1633.7 936.1 L1642.7 940.5 L1651.7 944.9 L1660.7 949.4 L1669.6 954 L1678.6 958.6 L1687.6 963.3 L1696.5 968 L1705.5 972.8 L1714.5 977.5 L1723.4 982.3 L1732.4 987.1 L1741.4 991.9 L1750.3 996.7 L1759.3 1001.6 L1768.3 1006.4 L1777.3 1011.3 L1786.2 1016.2 L1795.2 1021 L1804.2 1025.9 L1813.1 1030.8 L1822.1 1035.7" fill="none" stroke="#7e7e7e" stroke-width="2.4" stroke-linecap="round" stroke-dasharray="0.3 5.0"/><line x1="1472.3" y1="865.4" x2="1822.1" y2="965.2" stroke="#ff0000" stroke-width="3.2" stroke-linecap="round"/><g fill="#000"><circle cx="1491.6" cy="710.2" r="8.0"/><circle cx="1524.5" cy="716.3" r="8.0"/><circle cx="1492.9" cy="746.7" r="8.0"/><circle cx="1520.2" cy="751.5" r="8.0"/><circle cx="1612.4" cy="752.8" r="8.0"/><circle cx="1472.7" cy="797.7" r="8.0"/><circle cx="1619.3" cy="791.6" r="8.0"/><circle cx="1525.7" cy="817.5" r="8.0"/><circle cx="1583.6" cy="817.5" r="8.0"/><circle cx="1480.5" cy="864.2" r="8.0"/><circle cx="1488.7" cy="858.3" r="8.0"/><circle cx="1503.7" cy="854.8" r="8.0"/><circle cx="1512.7" cy="856" r="8.0"/><circle cx="1522.7" cy="862.4" r="8.0"/><circle cx="1529.1" cy="842.2" r="8.0"/><circle cx="1523.9" cy="846.6" r="8.0"/><circle cx="1538.8" cy="869.5" r="8.0"/><circle cx="1552" cy="860.7" r="8.0"/><circle cx="1532.1" cy="887.3" r="8.0"/><circle cx="1586" cy="864.3" r="8.0"/><circle cx="1594.5" cy="878.3" r="8.0"/><circle cx="1596.9" cy="886" r="8.0"/><circle cx="1603.8" cy="895.3" r="8.0"/><circle cx="1577.1" cy="893" r="8.0"/><circle cx="1569" cy="910.8" r="8.0"/><circle cx="1574.4" cy="914.7" r="8.0"/><circle cx="1594.9" cy="914.3" r="8.0"/><circle cx="1570.5" cy="929.4" r="8.0"/><circle cx="1586" cy="931" r="8.0"/><circle cx="1592.2" cy="937.2" r="8.0"/><circle cx="1624.5" cy="880" r="8.0"/><circle cx="1644.9" cy="860.6" r="8.0"/><circle cx="1650.8" cy="886.3" r="8.0"/><circle cx="1502.6" cy="898.2" r="8.0"/><circle cx="1511.6" cy="910" r="8.0"/><circle cx="1540.6" cy="901" r="8.0"/><circle cx="1539.4" cy="922.7" r="8.0"/><circle cx="1548.8" cy="922.7" r="8.0"/><circle cx="1546" cy="937.1" r="8.0"/><circle cx="1499.7" cy="937.5" r="8.0"/><circle cx="1509.5" cy="935" r="8.0"/><circle cx="1529.6" cy="949.6" r="8.0"/><circle cx="1516.8" cy="958.1" r="8.0"/><circle cx="1513.2" cy="968.3" r="8.0"/><circle cx="1532.4" cy="974.2" r="8.0"/><circle cx="1544.8" cy="965.4" r="8.0"/><circle cx="1561.4" cy="967.8" r="8.0"/><circle cx="1532.9" cy="990" r="8.0"/><circle cx="1539.1" cy="988.8" r="8.0"/><circle cx="1624.4" cy="976.7" r="8.0"/><circle cx="1633.6" cy="1015.8" r="8.0"/><circle cx="1665.4" cy="1011.7" r="8.0"/><circle cx="1687.8" cy="878.1" r="8.0"/><circle cx="1691.1" cy="937.6" r="8.0"/><circle cx="1823.9" cy="915.9" r="8.0"/><circle cx="1758.7" cy="983.8" r="8.0"/></g><path d="M1379.5 684 V1052 M1377.5 1050 H1929.9" fill="none" stroke="#000" stroke-width="4"/><line x1="1365.5" y1="1050" x2="1379.5" y2="1050" stroke="#000" stroke-width="4" stroke-linecap="round"/><line x1="1365.5" y1="928.7" x2="1379.5" y2="928.7" stroke="#000" stroke-width="4" stroke-linecap="round"/><line x1="1365.5" y1="807.3" x2="1379.5" y2="807.3" stroke="#000" stroke-width="4" stroke-linecap="round"/><line x1="1365.5" y1="686" x2="1379.5" y2="686" stroke="#000" stroke-width="4" stroke-linecap="round"/><line x1="1379.5" y1="1050" x2="1379.5" y2="1063.6" stroke="#000" stroke-width="4" stroke-linecap="round"/><line x1="1562.3" y1="1050" x2="1562.3" y2="1063.6" stroke="#000" stroke-width="4" stroke-linecap="round"/><line x1="1745.1" y1="1050" x2="1745.1" y2="1063.6" stroke="#000" stroke-width="4" stroke-linecap="round"/><line x1="1927.9" y1="1050" x2="1927.9" y2="1063.6" stroke="#000" stroke-width="4" stroke-linecap="round"/><line x1="1397.8" y1="1050" x2="1397.8" y2="1057.3" stroke="#000" stroke-width="3" stroke-linecap="round"/><line x1="1416.1" y1="1050" x2="1416.1" y2="1057.3" stroke="#000" stroke-width="3" stroke-linecap="round"/><line x1="1434.3" y1="1050" x2="1434.3" y2="1057.3" stroke="#000" stroke-width="3" stroke-linecap="round"/><line x1="1452.6" y1="1050" x2="1452.6" y2="1057.3" stroke="#000" stroke-width="3" stroke-linecap="round"/><line x1="1470.9" y1="1050" x2="1470.9" y2="1057.3" stroke="#000" stroke-width="3" stroke-linecap="round"/><line x1="1489.2" y1="1050" x2="1489.2" y2="1057.3" stroke="#000" stroke-width="3" stroke-linecap="round"/><line x1="1507.5" y1="1050" x2="1507.5" y2="1057.3" stroke="#000" stroke-width="3" stroke-linecap="round"/><line x1="1525.7" y1="1050" x2="1525.7" y2="1057.3" stroke="#000" stroke-width="3" stroke-linecap="round"/><line x1="1544" y1="1050" x2="1544" y2="1057.3" stroke="#000" stroke-width="3" stroke-linecap="round"/><line x1="1580.6" y1="1050" x2="1580.6" y2="1057.3" stroke="#000" stroke-width="3" stroke-linecap="round"/><line x1="1598.9" y1="1050" x2="1598.9" y2="1057.3" stroke="#000" stroke-width="3" stroke-linecap="round"/><line x1="1617.1" y1="1050" x2="1617.1" y2="1057.3" stroke="#000" stroke-width="3" stroke-linecap="round"/><line x1="1635.4" y1="1050" x2="1635.4" y2="1057.3" stroke="#000" stroke-width="3" stroke-linecap="round"/><line x1="1653.7" y1="1050" x2="1653.7" y2="1057.3" stroke="#000" stroke-width="3" stroke-linecap="round"/><line x1="1672" y1="1050" x2="1672" y2="1057.3" stroke="#000" stroke-width="3" stroke-linecap="round"/><line x1="1690.3" y1="1050" x2="1690.3" y2="1057.3" stroke="#000" stroke-width="3" stroke-linecap="round"/><line x1="1708.5" y1="1050" x2="1708.5" y2="1057.3" stroke="#000" stroke-width="3" stroke-linecap="round"/><line x1="1726.8" y1="1050" x2="1726.8" y2="1057.3" stroke="#000" stroke-width="3" stroke-linecap="round"/><line x1="1763.4" y1="1050" x2="1763.4" y2="1057.3" stroke="#000" stroke-width="3" stroke-linecap="round"/><line x1="1781.7" y1="1050" x2="1781.7" y2="1057.3" stroke="#000" stroke-width="3" stroke-linecap="round"/><line x1="1799.9" y1="1050" x2="1799.9" y2="1057.3" stroke="#000" stroke-width="3" stroke-linecap="round"/><line x1="1818.2" y1="1050" x2="1818.2" y2="1057.3" stroke="#000" stroke-width="3" stroke-linecap="round"/><line x1="1836.5" y1="1050" x2="1836.5" y2="1057.3" stroke="#000" stroke-width="3" stroke-linecap="round"/><line x1="1854.8" y1="1050" x2="1854.8" y2="1057.3" stroke="#000" stroke-width="3" stroke-linecap="round"/><line x1="1873.1" y1="1050" x2="1873.1" y2="1057.3" stroke="#000" stroke-width="3" stroke-linecap="round"/><line x1="1891.3" y1="1050" x2="1891.3" y2="1057.3" stroke="#000" stroke-width="3" stroke-linecap="round"/><line x1="1909.6" y1="1050" x2="1909.6" y2="1057.3" stroke="#000" stroke-width="3" stroke-linecap="round"/></g>
<g font-family="&apos;Liberation Sans&apos;, Arial, Helvetica, sans-serif" font-weight="bold" fill="#000"><text x="1359.5" y="1060" text-anchor="end" font-size="28">0</text><text x="1359.5" y="938.7" text-anchor="end" font-size="28">10</text><text x="1359.5" y="817.3" text-anchor="end" font-size="28">20</text><text x="1359.5" y="696" text-anchor="end" font-size="28">30</text><text x="1379.5" y="1097" text-anchor="middle" font-size="28">0</text><text x="1562.3" y="1097" text-anchor="middle" font-size="28">100</text><text x="1745.1" y="1097" text-anchor="middle" font-size="28">200</text><text x="1927.9" y="1097" text-anchor="middle" font-size="28">300</text><text x="1653.7" y="1148.3" text-anchor="middle" font-size="30">LV massi (g/m<tspan font-size="20" dy="-15.5">2</tspan><tspan dy="15.5">)</tspan></text><text transform="translate(1311.7 867.5) rotate(-90)" text-anchor="middle" font-size="30">LA εa (%)</text><text x="1799.4" y="715.6" font-size="31">r=-0.267</text><text x="1799.4" y="752.8" font-size="31">p=0.042</text></g>
</svg>
</body></html>
